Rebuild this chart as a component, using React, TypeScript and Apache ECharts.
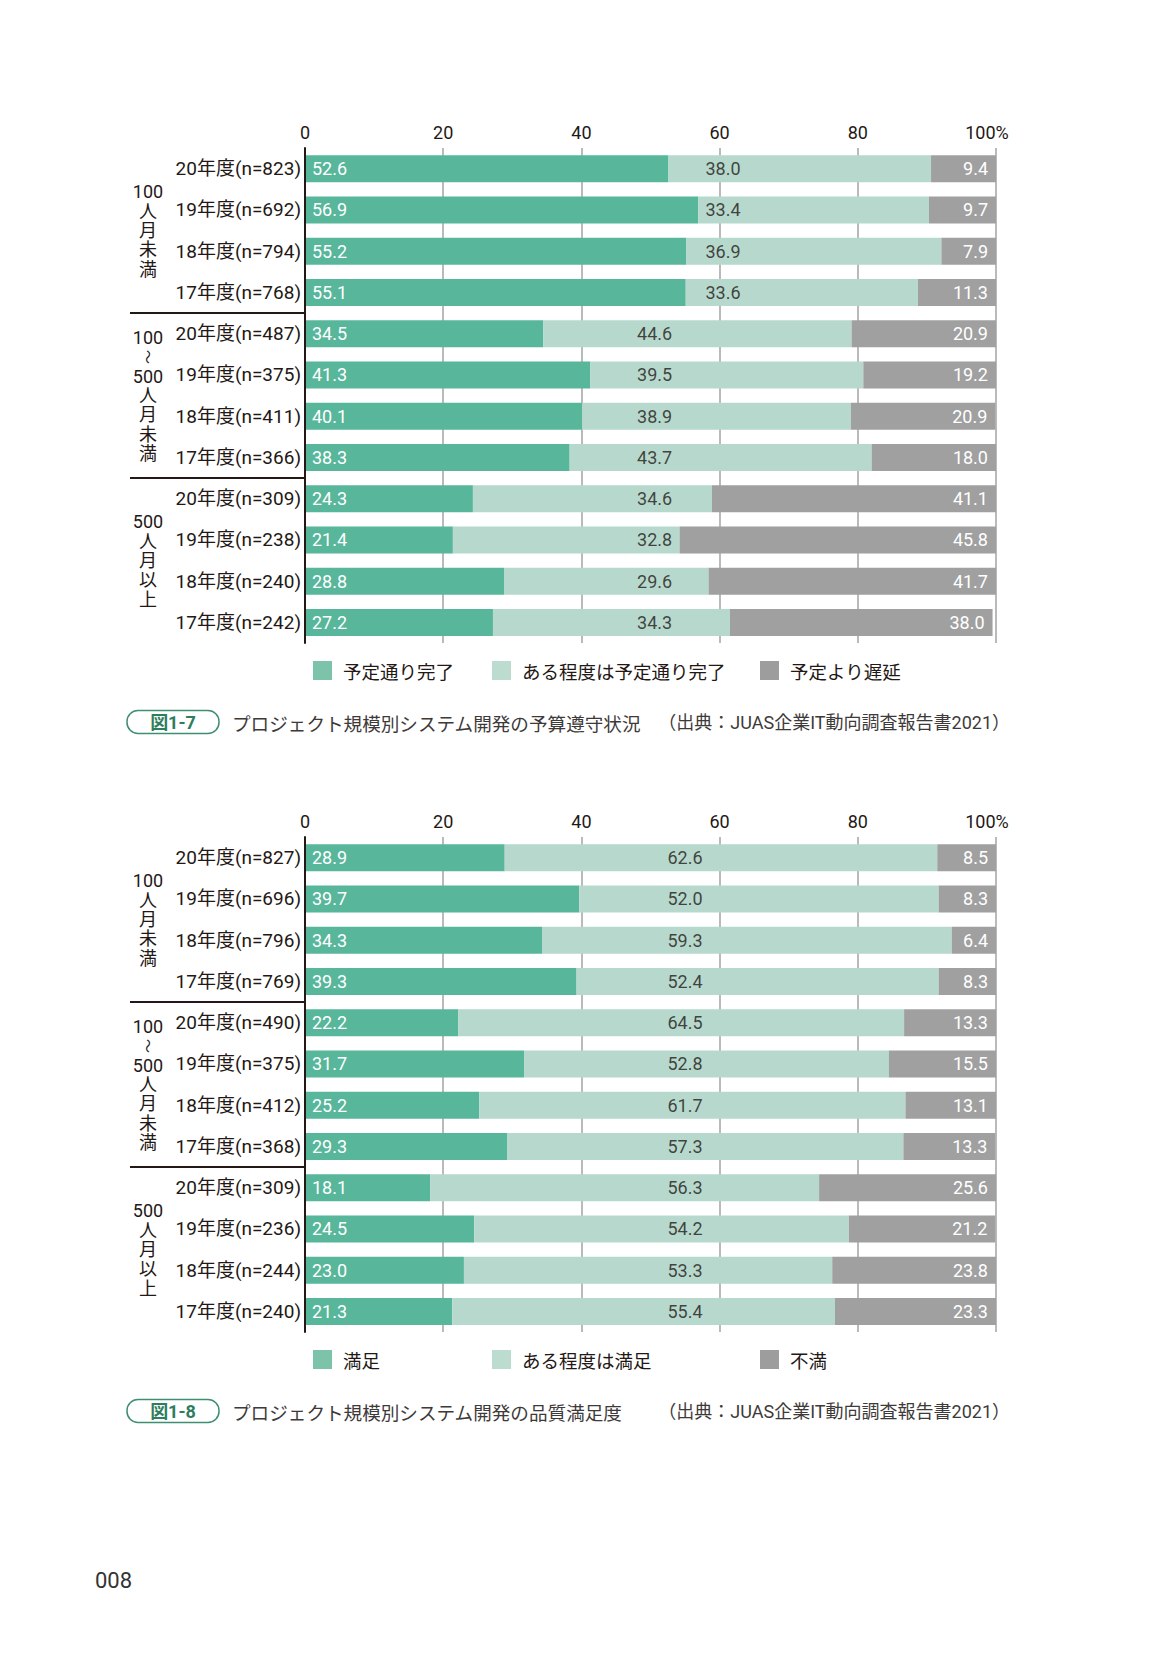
import React, { useEffect, useRef } from "react";
import * as echarts from "echarts";

// ---------- data ----------
const categories1 = [
  "20年度(n=823)", "19年度(n=692)", "18年度(n=794)", "17年度(n=768)",
  "20年度(n=487)", "19年度(n=375)", "18年度(n=411)", "17年度(n=366)",
  "20年度(n=309)", "19年度(n=238)", "18年度(n=240)", "17年度(n=242)",
];
const onSchedule1 = [52.6, 56.9, 55.2, 55.1, 34.5, 41.3, 40.1, 38.3, 24.3, 21.4, 28.8, 27.2];
const mostlyOnSchedule1 = [38.0, 33.4, 36.9, 33.6, 44.6, 39.5, 38.9, 43.7, 34.6, 32.8, 29.6, 34.3];
const delayed1 = [9.4, 9.7, 7.9, 11.3, 20.9, 19.2, 20.9, 18.0, 41.1, 45.8, 41.7, 38.0];
const legend1 = ["予定通り完了", "ある程度は予定通り完了", "予定より遅延"];

const categories2 = [
  "20年度(n=827)", "19年度(n=696)", "18年度(n=796)", "17年度(n=769)",
  "20年度(n=490)", "19年度(n=375)", "18年度(n=412)", "17年度(n=368)",
  "20年度(n=309)", "19年度(n=236)", "18年度(n=244)", "17年度(n=240)",
];
const satisfied2 = [28.9, 39.7, 34.3, 39.3, 22.2, 31.7, 25.2, 29.3, 18.1, 24.5, 23.0, 21.3];
const mostlySatisfied2 = [62.6, 52.0, 59.3, 52.4, 64.5, 52.8, 61.7, 57.3, 56.3, 54.2, 53.3, 55.4];
const unsatisfied2 = [8.5, 8.3, 6.4, 8.3, 13.3, 15.5, 13.1, 13.3, 25.6, 21.2, 23.8, 23.3];
const legend2 = ["満足", "ある程度は満足", "不満"];

const xTicks = [0, 20, 40, 60, 80, 100];
const groupLabels = [
  ["100", "人", "月", "未", "満"],
  ["100", "～", "500", "人", "月", "未", "満"],
  ["500", "人", "月", "以", "上"],
];
const captions = [
  { tag: "図1-7", title: "プロジェクト規模別システム開発の予算遵守状況", source: "（出典：JUAS企業IT動向調査報告書2021）" },
  { tag: "図1-8", title: "プロジェクト規模別システム開発の品質満足度", source: "（出典：JUAS企業IT動向調査報告書2021）" },
];
const pageNumber = "008";

// label anchor (in % units) for the middle segment labels, per row
const midLabelAnchor1 = [60.5, 60.5, 60.5, 60.5, 50.6, 50.6, 50.6, 50.6, 50.6, 50.6, 50.6, 50.6];
const midLabelAnchor2 = [55, 55, 55, 55, 55, 55, 55, 55, 55, 55, 55, 55];

// ---------- styles ----------
const FONT = "Roboto, 'Noto Sans CJK JP', sans-serif";
const CJK = "'Noto Sans CJK JP', sans-serif";
const TXT = "#231815";
const C_DARK = "#58b69b";
const C_LIGHT = "#b7d9cd";
const C_GREY = "#a0a0a0";
const LEG_COLORS = ["#7dc3aa", "#bcdccf", "#9d9d9d"];
const LEG_LEFTS = [313, 492, 760];

const GRID_LEFT = 305;
const GRID_W = 691;
const GRID_H = 495;
const GRID_TOPS = [148, 837];
const ROWS = 12;

export default function App() {
  const ref = useRef<HTMLDivElement>(null);

  useEffect(() => {
    document.body.style.margin = "0";
    if (!ref.current) return;
    const chart = echarts.init(ref.current, undefined, { renderer: "svg" });

    const charts = [
      { cats: categories1, a: onSchedule1, b: mostlyOnSchedule1, c: delayed1, names: legend1, anchor: midLabelAnchor1 },
      { cats: categories2, a: satisfied2, b: mostlySatisfied2, c: unsatisfied2, names: legend2, anchor: midLabelAnchor2 },
    ];

    const fmt = (v: number) => v.toFixed(1);

    const series: any[] = [];
    charts.forEach((ch, i) => {
      const stack = "s" + i;
      series.push({
        type: "bar", name: ch.names[0], stack, xAxisIndex: i, yAxisIndex: i, barWidth: 27,
        data: ch.a, itemStyle: { color: C_DARK },
        label: { show: true, position: "insideLeft", distance: 7, color: "#fff", fontSize: 18, fontFamily: FONT,
          formatter: (p: any) => fmt(p.value) },
      });
      series.push({
        type: "bar", name: ch.names[1], stack, xAxisIndex: i, yAxisIndex: i, barWidth: 27,
        data: ch.b, itemStyle: { color: C_LIGHT }, label: { show: false },
      });
      series.push({
        type: "bar", name: ch.names[2], stack, xAxisIndex: i, yAxisIndex: i, barWidth: 27,
        data: ch.c, itemStyle: { color: C_GREY },
        label: { show: true, position: "insideRight", distance: 8, color: "#fff", fontSize: 18, fontFamily: FONT,
          formatter: (p: any) => fmt(p.value) },
      });
      series.push({
        type: "scatter", name: "mid" + i, xAxisIndex: i, yAxisIndex: i, symbolSize: 0, z: 5,
        data: ch.b.map((v, k) => ({ value: [ch.anchor[k], k] })),
        label: { show: true, position: "inside", color: TXT, fontSize: 18, fontFamily: FONT,
          formatter: (p: any) => fmt(ch.b[p.dataIndex]) },
      });
    });

    const rowH = GRID_H / ROWS;
    const graphic: any[] = [];
    GRID_TOPS.forEach((top, ci) => {
      // group separators
      [4, 8].forEach((r) => {
        graphic.push({ type: "line", shape: { x1: 130, y1: top + rowH * r, x2: GRID_LEFT, y2: top + rowH * r },
          style: { stroke: TXT, lineWidth: 2 }, z: 10 });
      });
      // group labels
      groupLabels.forEach((lines, g) => {
        const cy = top + rowH * (4 * g + 2);
        const pitch = 19.3;
        lines.forEach((t, k) => {
          const y = cy + (k - (lines.length - 1) / 2) * pitch;
          const isTilde = t === "～";
          graphic.push({ type: "text", x: 148, y, rotation: isTilde ? -Math.PI / 2 : 0,
            style: { text: t, fill: TXT, font: `${isTilde ? 14 : 18}px ${FONT}`, align: "center", verticalAlign: "middle" } });
        });
      });
      // caption
      const cap = captions[ci];
      const cy = top + 574;
      graphic.push({ type: "rect", shape: { x: 127, y: cy - 11.5, width: 92, height: 23, r: 11 },
        style: { fill: "#fff", stroke: "#3e8f6f", lineWidth: 1.5 } });
      graphic.push({ type: "text", x: 173, y: cy, style: { text: cap.tag, fill: "#2f7d5d",
        font: `bold 18px ${FONT}`, align: "center", verticalAlign: "middle" } });
      graphic.push({ type: "text", x: 232, y: cy, style: { text: cap.title, fill: "#3e3a39",
        font: `18.6px ${CJK}`, align: "left", verticalAlign: "middle" } });
      graphic.push({ type: "text", x: 1010, y: cy, style: { text: cap.source, fill: "#3e3a39",
        font: `18px ${FONT}`, align: "right", verticalAlign: "middle" } });
    });
    graphic.push({ type: "text", x: 95, y: 1580, style: { text: pageNumber, fill: "#333",
      font: `22px ${FONT}`, align: "left", verticalAlign: "middle" } });

    const legends: any[] = [];
    charts.forEach((ch, i) => {
      ch.names.forEach((nm, k) => {
        legends.push({
          data: [{ name: nm, itemStyle: { color: LEG_COLORS[k] } }],
          top: GRID_TOPS[i] + 513, left: LEG_LEFTS[k], padding: 0, icon: "rect", itemWidth: 19, itemHeight: 19,
          selectedMode: false,
          textStyle: { fontSize: 18.5, color: TXT, fontFamily: CJK, padding: [0, 0, 0, 6] },
        });
      });
    });

    chart.setOption({
      animation: false,
      backgroundColor: "#fff",
      grid: GRID_TOPS.map((t) => ({ left: GRID_LEFT, width: GRID_W, top: t, height: GRID_H })),
      xAxis: GRID_TOPS.map((_, i) => ({
        gridIndex: i, type: "value", min: xTicks[0], max: xTicks[xTicks.length - 1], interval: xTicks[1] - xTicks[0],
        position: "top",
        axisLine: { show: false }, axisTick: { show: false },
        splitLine: { show: true, lineStyle: { color: "#a3a3a3", width: 1.5 } },
        axisLabel: {
          margin: 7, color: TXT, fontSize: 18, fontFamily: FONT,
          formatter: (v: number) => (v === 100 ? "{m|100%}" : String(v)),
          rich: { m: { padding: [0, 18, 0, 0], color: TXT, fontSize: 18, fontFamily: FONT } },
        },
      })),
      yAxis: GRID_TOPS.map((_, i) => ({
        gridIndex: i, type: "category", inverse: true, data: charts[i].cats, z: 6,
        axisLine: { show: true, lineStyle: { color: TXT, width: 2 } },
        axisTick: { show: false }, splitLine: { show: false },
        axisLabel: { margin: 4, color: TXT, fontSize: 19, fontFamily: FONT },
      })),
      legend: legends,
      series,
      graphic,
    });

    return () => chart.dispose();
  }, []);

  return <div ref={ref} style={{ position: "absolute", left: 0, top: 0, width: 1165, height: 1654 }} />;
}
